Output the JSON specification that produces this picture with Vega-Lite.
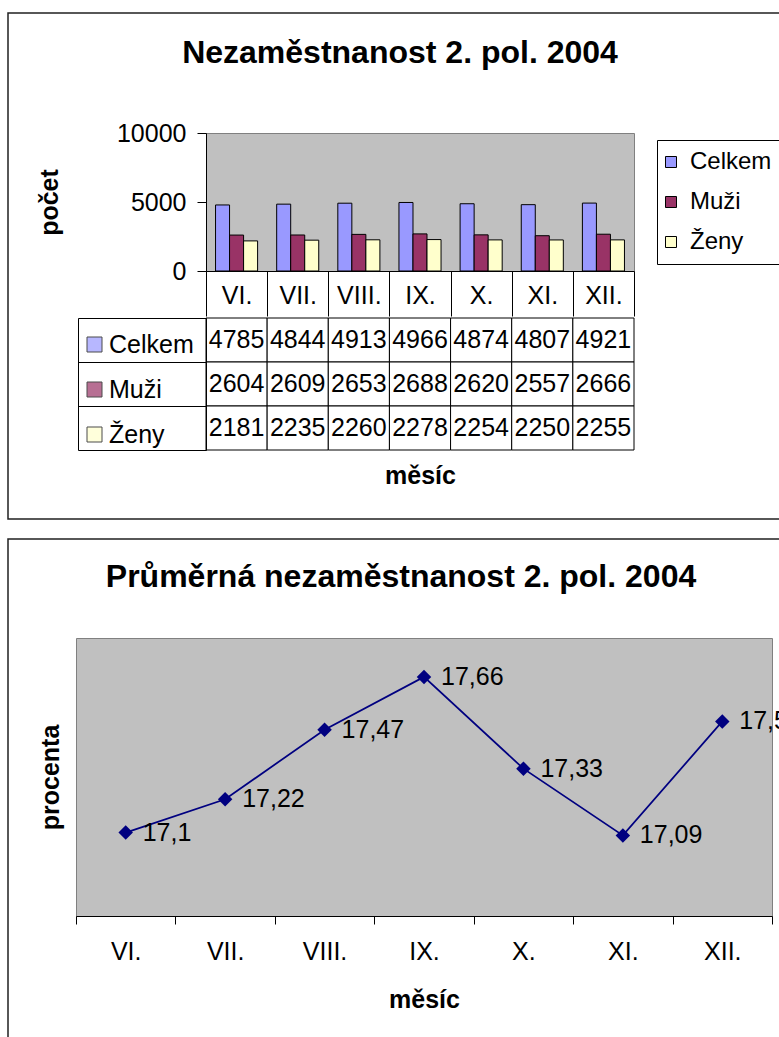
{
  "$schema": "https://vega.github.io/schema/vega-lite/v6.json",
  "padding": {"left": 7, "top": 12, "right": 0, "bottom": 0},
  "background": "white",
  "datasets": {
    "counts": [
      {"month": "VI.", "series": "Celkem", "value": 4785},
      {"month": "VII.", "series": "Celkem", "value": 4844},
      {"month": "VIII.", "series": "Celkem", "value": 4913},
      {"month": "IX.", "series": "Celkem", "value": 4966},
      {"month": "X.", "series": "Celkem", "value": 4874},
      {"month": "XI.", "series": "Celkem", "value": 4807},
      {"month": "XII.", "series": "Celkem", "value": 4921},
      {"month": "VI.", "series": "Muži", "value": 2604},
      {"month": "VII.", "series": "Muži", "value": 2609},
      {"month": "VIII.", "series": "Muži", "value": 2653},
      {"month": "IX.", "series": "Muži", "value": 2688},
      {"month": "X.", "series": "Muži", "value": 2620},
      {"month": "XI.", "series": "Muži", "value": 2557},
      {"month": "XII.", "series": "Muži", "value": 2666},
      {"month": "VI.", "series": "Ženy", "value": 2181},
      {"month": "VII.", "series": "Ženy", "value": 2235},
      {"month": "VIII.", "series": "Ženy", "value": 2260},
      {"month": "IX.", "series": "Ženy", "value": 2278},
      {"month": "X.", "series": "Ženy", "value": 2254},
      {"month": "XI.", "series": "Ženy", "value": 2250},
      {"month": "XII.", "series": "Ženy", "value": 2255}
    ],
    "avg": [
      {"month": "VI.", "pct": 17.1},
      {"month": "VII.", "pct": 17.22},
      {"month": "VIII.", "pct": 17.47},
      {"month": "IX.", "pct": 17.66},
      {"month": "X.", "pct": 17.33},
      {"month": "XI.", "pct": 17.09},
      {"month": "XII.", "pct": 17.5}
    ],
    "frame": [{}]
  },
  "vconcat": [
    {
      "vconcat": [
        {
          "width": 772,
          "height": 506,
          "view": {"stroke": "#202020", "strokeWidth": 1.5, "fill": null},
          "data": {"name": "frame"},
          "mark": {"type": "point", "opacity": 0}
        },
        {
          "hconcat": [
            {
              "width": 198,
              "height": 1,
              "view": {"stroke": null, "fill": null},
              "data": {"name": "frame"},
              "mark": {"type": "point", "opacity": 0}
            },
            {
              "vconcat": [
                {
                  "width": 428,
                  "height": 138,
                  "title": {"text": "Nezaměstnanost 2. pol. 2004", "frame": "group", "dx": -20, "offset": 51},
                  "data": {"name": "counts"},
                  "mark": {"type": "bar", "stroke": "black", "strokeWidth": 1},
                  "encoding": {
                    "x": {
                      "field": "month", "type": "nominal",
                      "sort": ["VI.", "VII.", "VIII.", "IX.", "X.", "XI.", "XII."],
                      "scale": {"paddingInner": 0, "paddingOuter": 0},
                      "axis": {"title": null, "labelAngle": 0, "tickBand": "extent", "tickSize": 45, "labelPadding": -33, "labelBaseline": "top", "labelOverlap": false}
                    },
                    "xOffset": {
                      "field": "series", "type": "nominal", "sort": ["Celkem", "Muži", "Ženy"],
                      "scale": {"paddingInner": 0, "paddingOuter": 0.68}
                    },
                    "y": {
                      "field": "value", "type": "quantitative",
                      "scale": {"domain": [0, 10000], "nice": false},
                      "axis": {"values": [0, 5000, 10000], "format": "d", "title": "počet", "tickSize": 9, "labelPadding": 11, "titlePadding": 54, "labelFlush": false}
                    },
                    "fill": {
                      "field": "series", "type": "nominal", "sort": ["Celkem", "Muži", "Ženy"],
                      "scale": {"domain": ["Celkem", "Muži", "Ženy"], "range": ["#9999FF", "#993366", "#FFFFCC"]},
                      "legend": {
                        "orient": "none", "legendX": 451, "legendY": 7, "title": null,
                        "symbolType": "square", "symbolSize": 121, "symbolStrokeColor": "black", "symbolStrokeWidth": 1,
                        "symbolOffset": -8,
                        "labelFontSize": 24, "labelOffset": 7, "rowPadding": 16, "padding": 10,
                        "strokeColor": "black", "fillColor": "white"
                      }
                    }
                  }
                },
                {
                  "width": 428,
                  "height": 132,
                  "view": {"stroke": null, "fill": null},
                  "data": {"name": "counts"},
                  "encoding": {
                    "x": {
                      "field": "month", "type": "nominal",
                      "sort": ["VI.", "VII.", "VIII.", "IX.", "X.", "XI.", "XII."],
                      "scale": {"paddingInner": 0, "paddingOuter": 0},
                      "axis": {"title": "měsíc", "labels": false, "ticks": false, "domain": false, "titlePadding": 13}
                    }
                  },
                  "layer": [
                    {
                      "mark": {"type": "point", "shape": "square", "filled": true, "stroke": "black", "strokeWidth": 1, "size": 100},
                      "encoding": {
                        "y": {
                          "field": "series", "type": "nominal", "sort": ["Celkem", "Muži", "Ženy"],
                          "scale": {"paddingInner": 0, "paddingOuter": 0},
                          "axis": {"orient": "left", "title": null, "labels": false, "ticks": false, "domain": true, "offset": 128}
                        },
                        "fill": {
                          "field": "series", "type": "nominal", "sort": ["Celkem", "Muži", "Ženy"],
                          "scale": {"domain": ["Celkem", "Muži", "Ženy"], "range": ["#9999FF", "#993366", "#FFFFCC"]},
                          "legend": {
                            "orient": "none", "legendX": -124, "legendY": 14, "title": null,
                            "symbolType": "square", "symbolSize": 225, "symbolStrokeColor": "black", "symbolStrokeWidth": 1,
                            "labelFontSize": 25, "labelOffset": 2, "rowPadding": 19, "padding": 0
                          }
                        }
                      }
                    },
                    {
                      "mark": {"type": "rect", "fill": "white", "stroke": "black", "strokeWidth": 1},
                      "encoding": {
                        "y": {
                          "field": "series", "type": "nominal", "sort": ["Celkem", "Muži", "Ženy"],
                          "scale": {"paddingInner": 0, "paddingOuter": 0},
                          "axis": {"orient": "left", "title": null, "labels": false, "tickBand": "extent", "tickSize": 128, "domain": true}
                        }
                      }
                    },
                    {
                      "mark": {"type": "text", "fontSize": 25, "baseline": "middle"},
                      "encoding": {
                        "y": {
                          "field": "series", "type": "nominal", "sort": ["Celkem", "Muži", "Ženy"],
                          "scale": {"paddingInner": 0, "paddingOuter": 0},
                          "axis": null
                        },
                        "text": {"field": "value", "type": "quantitative", "format": "d"}
                      }
                    }
                  ],
                  "resolve": {"axis": {"y": "independent"}}
                }
              ],
              "spacing": 0,
              "resolve": {"scale": {"fill": "independent"}, "legend": {"fill": "independent"}}
            }
          ],
          "spacing": 0,
          "bounds": "flush"
        }
      ],
      "spacing": -484,
      "align": "none"
    },
    {
      "vconcat": [
        {
          "width": 772,
          "height": 510,
          "view": {"stroke": "#202020", "strokeWidth": 1.5, "fill": null},
          "data": {"name": "frame"},
          "mark": {"type": "point", "opacity": 0}
        },
        {
          "hconcat": [
            {
              "width": 68,
              "height": 1,
              "view": {"stroke": null, "fill": null},
              "data": {"name": "frame"},
              "mark": {"type": "point", "opacity": 0}
            },
            {
              "width": 696,
              "height": 278,
              "title": {"text": "Průměrná nezaměstnanost 2. pol. 2004", "frame": "group", "dx": -23, "offset": 44},
              "data": {"name": "avg"},
              "encoding": {
                "x": {
                  "field": "month", "type": "nominal",
                  "sort": ["VI.", "VII.", "VIII.", "IX.", "X.", "XI.", "XII."],
                  "scale": {"paddingInner": 0, "paddingOuter": 0},
                  "axis": {"title": "měsíc", "labelAngle": 0, "tickBand": "extent", "tickSize": 8, "labelPadding": 15, "titlePadding": 23, "labelOverlap": false}
                },
                "y": {
                  "field": "pct", "type": "quantitative",
                  "scale": {"domain": [16.8, 17.8], "zero": false, "nice": false},
                  "axis": {"title": "procenta", "labels": false, "ticks": false, "domain": false, "titlePadding": 13}
                }
              },
              "layer": [
                {"mark": {"type": "line", "color": "#000080", "strokeWidth": 1.75}},
                {"mark": {"type": "point", "shape": "diamond", "filled": true, "color": "#000080", "size": 210, "opacity": 1}},
                {
                  "mark": {"type": "text", "align": "left", "baseline": "middle", "dx": 17, "fontSize": 25, "color": "black"},
                  "encoding": {"text": {"field": "pct", "type": "quantitative", "format": ".4~r"}}
                }
              ]
            }
          ],
          "spacing": 0,
          "bounds": "flush"
        }
      ],
      "spacing": -490,
      "align": "none"
    }
  ],
  "spacing": 18,
  "config": {
    "font": "Liberation Sans",
    "view": {"fill": "#C0C0C0", "stroke": "#808080"},
    "axis": {
      "grid": false, "labelColor": "black", "titleColor": "black", "tickColor": "black", "domainColor": "black",
      "labelFont": "Liberation Sans", "titleFont": "Liberation Sans", "labelFontSize": 25, "titleFontSize": 25, "titleFontWeight": "bold"
    },
    "title": {"font": "Liberation Sans", "fontSize": 32, "fontWeight": "bold", "color": "black"},
    "legend": {"labelFont": "Liberation Sans", "labelColor": "black"},
    "locale": {"number": {"decimal": ",", "thousands": " ", "grouping": [3], "currency": ["", " Kč"]}}
  }
}
